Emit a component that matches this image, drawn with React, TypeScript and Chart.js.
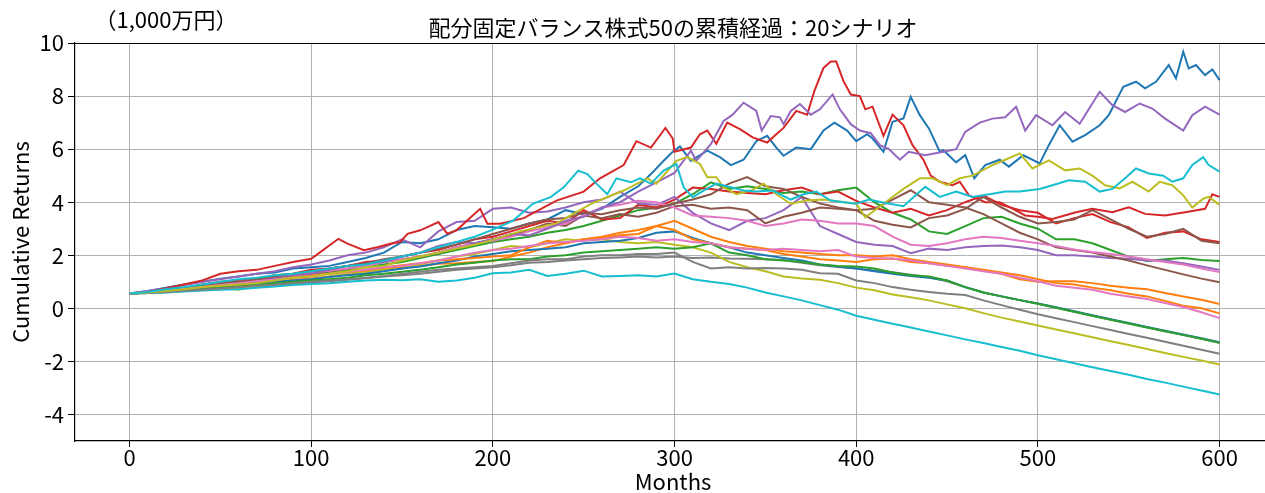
import React, { useEffect, useRef } from 'react';
import { Chart, registerables } from 'chart.js';

Chart.register(...registerables);

const FONT = '"Noto Sans CJK JP", "Noto Sans", sans-serif';

const titleText = '配分固定バランス株式50の累積経過：20シナリオ';
const unitText = '（1,000万円）';
const yTitle = 'Cumulative Returns';
const xTitle = 'Months';

const xTicks = [0, 100, 200, 300, 400, 500, 600];
const yTicks = [-4, -2, 0, 2, 4, 6, 8, 10];

// common month grid (every 10 months)
const months = [
  0, 10, 20, 30, 40, 50, 60, 70, 80, 90,
  100, 110, 120, 130, 140, 150, 160, 170, 180, 190,
  200, 210, 220, 230, 240, 250, 260, 270, 280, 290,
  300, 310, 320, 330, 340, 350, 360, 370, 380, 390,
  400, 410, 420, 430, 440, 450, 460, 470, 480, 490,
  500, 510, 520, 530, 540, 550, 560, 570, 580, 590,
  600,
];

// scenario 1 (blue, ends highest) — read at its own months
const s0Months = [0,10,20,30,40,50,60,70,80,90, 100,110,120,130,140,150,160,170,180,190, 200,210,220,230,240,250,260,270,280,
  287,294,299,303,309,318,325,331,338,345, 351,356,360,367,375,382,388,395,400,406, 409,415,420,426,430,435,440,446,448,455,
  460,465,471,479,484,492,501,506,512,519, 526,534,539,547,554,559,565,572,576,580, 583,587,592,596,600];
const s0 = [0.56,0.65,0.78,0.9,1.0,1.12,1.2,1.3,1.35,1.5, 1.55,1.6,1.75,1.9,2.1,2.5,2.45,2.6,2.95,3.1, 3.06,3.0,3.2,3.35,3.7,3.55,3.75,4.2,4.6,
  5.06,5.56,5.9,6.1,5.56,5.94,5.7,5.4,5.6,6.3, 6.5,6.06,5.75,6.06,6.0,6.7,7.0,6.7,6.3,6.56, 6.4,5.9,7.03,7.16,7.97,7.28,6.78,5.9,5.96,5.5,
  5.77,4.9,5.4,5.6,5.34,5.77,5.46,6.15,6.9,6.28, 6.53,6.9,7.28,8.35,8.54,8.29,8.54,9.17,8.67,9.67, 9.04,9.17,8.79,9.0,8.6];

const s1 = [0.56,0.6,0.65,0.7,0.78,0.85,0.9,0.95,1.0,1.08, 1.12,1.2,1.3,1.4,1.5,1.55,1.6,1.68,1.7,1.75, 1.78,1.95,2.1,2.3,2.45,2.6,2.7,2.85,2.95,3.1, 3.3,3.0,2.7,2.5,2.35,2.25,2.15,2.1,2.05,2.0, 2.0,1.95,2.0,1.85,1.75,1.65,1.55,1.42,1.3,1.1, 1.0,1.02,1.02,0.95,0.85,0.78,0.72,0.58,0.45,0.32, 0.16];
const s2 = [0.56,0.6,0.66,0.74,0.82,0.9,0.98,1.05,1.12,1.2, 1.28,1.35,1.45,1.55,1.65,1.75,1.9,2.05,2.2,2.35, 2.5,2.6,2.7,2.85,2.95,3.1,3.3,3.5,3.7,3.8, 3.95,4.3,4.75,4.5,4.6,4.5,4.35,4.4,4.3,4.45, 4.55,4.0,3.6,3.35,2.9,2.8,3.1,3.4,3.45,3.2, 3.0,2.6,2.6,2.45,2.2,1.95,1.78,1.85,1.9,1.82, 1.78];
const s3 = [0.56,0.6,0.68,0.78,0.9,1.0,1.05,1.12,1.25,1.3, 1.45,1.5,1.6,1.75,1.8,1.95,2.1,2.2,2.4,2.6, 2.7,2.9,3.1,3.3,3.2,3.7,3.35,3.4,3.9,3.8, 4.1,4.55,4.5,4.4,4.35,4.3,4.45,4.55,4.3,4.4, 4.05,3.8,3.6,3.75,3.5,3.7,4.0,4.25,3.9,3.7, 3.6,3.2,3.4,3.55,3.25,3.05,2.65,2.85,2.9,2.6, 2.5];
const s4 = [0.56,0.65,0.75,0.88,1.0,1.1,1.2,1.3,1.4,1.55, 1.65,1.8,2.0,2.1,2.3,2.6,2.3,2.9,3.25,3.3, 3.75,3.8,3.6,3.65,3.8,4.0,4.1,4.4,3.95,3.9, 4.2,3.6,3.2,2.95,3.3,3.4,3.7,4.2,3.1,2.8, 2.5,2.4,2.35,2.08,2.25,2.2,2.3,2.35,2.37,2.3, 2.2,2.0,2.0,1.95,1.9,1.87,1.8,1.8,1.7,1.58, 1.45];
const s5 = [0.56,0.6,0.66,0.72,0.8,0.88,0.95,1.02,1.1,1.2, 1.3,1.4,1.5,1.62,1.75,1.85,1.95,2.1,2.3,2.45, 2.6,2.75,2.95,3.2,3.1,3.5,3.4,3.55,3.45,3.6, 3.85,3.9,3.75,3.8,3.7,3.2,3.45,3.6,3.8,3.75, 3.7,3.75,4.1,4.45,4.0,3.9,3.8,3.55,3.2,2.85, 2.6,2.3,2.2,2.1,1.95,1.8,1.62,1.45,1.28,1.12, 0.98];
const s6 = [0.56,0.6,0.68,0.76,0.85,0.95,1.0,1.08,1.15,1.25, 1.35,1.42,1.5,1.6,1.75,1.85,1.95,2.1,2.3,2.45, 2.55,2.7,2.9,3.05,3.2,3.5,3.8,3.9,4.05,4.0, 3.8,3.5,3.45,3.4,3.3,3.1,3.2,3.35,3.3,3.2, 3.2,3.1,2.7,2.4,2.35,2.45,2.6,2.7,2.65,2.55, 2.45,2.35,2.22,2.12,2.05,1.95,1.85,1.75,1.65,1.5, 1.37];
const s7 = [0.56,0.58,0.61,0.65,0.69,0.74,0.78,0.83,0.88,0.92, 0.97,1.02,1.08,1.13,1.2,1.25,1.3,1.38,1.45,1.5, 1.55,1.62,1.72,1.75,1.8,1.85,1.9,1.92,1.95,1.92, 1.95,1.9,1.92,1.88,1.87,1.85,1.82,1.72,1.62,1.56, 1.5,1.43,1.36,1.27,1.17,1.02,0.8,0.6,0.45,0.31, 0.17,0.02,-0.13,-0.28,-0.42,-0.57,-0.71,-0.86,-1.01,-1.15, -1.3];
const s8 = [0.56,0.58,0.62,0.67,0.72,0.78,0.7,0.85,0.95,1.0, 1.1,1.2,1.3,1.35,1.45,1.5,1.65,1.8,1.95,2.05, 2.2,2.35,2.3,2.45,2.6,2.55,2.6,2.5,2.45,2.5, 2.4,2.3,2.1,1.75,1.55,1.4,1.2,1.12,1.08,0.95, 0.78,0.68,0.52,0.42,0.3,0.15,0.0,-0.18,-0.35,-0.5, -0.65,-0.8,-0.94,-1.09,-1.24,-1.38,-1.53,-1.68,-1.83,-1.97, -2.12];
const s9 = [0.56,0.58,0.6,0.63,0.67,0.7,0.72,0.78,0.82,0.88, 0.92,0.95,1.0,1.05,1.08,1.06,1.1,1.0,1.05,1.15, 1.32,1.35,1.45,1.22,1.3,1.42,1.2,1.22,1.25,1.2, 1.31,1.1,1.0,0.92,0.78,0.6,0.45,0.3,0.12,-0.05, -0.28,-0.43,-0.58,-0.72,-0.87,-1.02,-1.17,-1.31,-1.46,-1.6, -1.77,-1.92,-2.07,-2.22,-2.36,-2.5,-2.66,-2.8,-2.95,-3.1, -3.25];
const s10 = [0.56,0.6,0.65,0.7,0.75,0.82,0.88,0.95,1.0,1.05, 1.1,1.18,1.25,1.3,1.4,1.5,1.58,1.7,1.8,1.95, 2.05,2.15,2.2,2.25,2.3,2.45,2.5,2.55,2.65,2.85, 2.9,2.65,2.45,2.3,2.1,2.0,1.9,1.8,1.65,1.58, 1.5,1.4,1.3,1.22,1.15,1.05,0.8,0.6,0.45,0.31, 0.18,0.04,-0.11,-0.26,-0.41,-0.55,-0.7,-0.84,-0.99,-1.13, -1.28];
const s11 = [0.56,0.62,0.7,0.78,0.85,0.92,1.0,1.08,1.15,1.2, 1.25,1.3,1.38,1.45,1.55,1.62,1.7,1.8,1.85,1.9, 1.95,2.0,2.3,2.55,2.45,2.6,2.65,2.75,2.8,3.1, 2.95,2.6,2.45,2.3,2.25,2.2,2.05,1.95,1.85,1.8, 1.75,1.85,1.88,1.75,1.7,1.6,1.55,1.45,1.35,1.25, 1.1,0.95,0.9,0.78,0.68,0.55,0.45,0.28,0.1,0.0, -0.19];
const s12 = [0.56,0.6,0.64,0.68,0.74,0.8,0.85,0.9,0.95,1.0, 1.05,1.1,1.15,1.25,1.3,1.38,1.45,1.55,1.65,1.72, 1.8,1.85,1.85,1.95,2.0,2.1,2.15,2.2,2.25,2.3, 2.25,2.3,2.45,2.1,2.0,1.85,1.8,1.75,1.65,1.6, 1.58,1.5,1.35,1.25,1.2,1.05,0.8,0.6,0.45,0.31, 0.17,0.02,-0.13,-0.28,-0.43,-0.57,-0.72,-0.86,-1.0,-1.15, -1.3];

// scenario 14 (red, highest peak) — read at its own months
const s13Months = [0,10,20,30,40,50,60,70,80,90, 100,105,115,120,129,137,144,149,153,160, 164,170,175,180,188,193,197,204,217,235,
  250,259,272,279,287,295,299,300,309,314, 318,323,329,336,343,351,356,360,367,373, 377,382,386,389,393,397,402,405,409,415,
  420,426,431,437,441,446,453,457,462,471, 479,486,493,501,508,521,530,541,550,559, 570,581,592,596,600];
const s13 = [0.56,0.62,0.75,0.9,1.05,1.3,1.4,1.45,1.6,1.75, 1.87,2.12,2.62,2.44,2.19,2.31,2.44,2.5,2.81,2.94, 3.06,3.25,2.81,2.94,3.44,3.75,3.19,3.19,3.4,4.06,
  4.4,4.9,5.4,6.3,6.06,6.8,6.4,5.9,6.06,6.56, 6.7,6.2,7.0,6.75,6.44,6.25,6.56,6.8,7.44,7.3, 8.2,9.06,9.3,9.3,8.56,8.06,8.0,7.5,7.6,6.5,
  7.3,6.9,6.15,5.6,5.0,4.77,4.64,4.77,4.26,4.0, 4.0,3.76,3.5,3.44,3.37,3.62,3.75,3.62,3.81,3.56, 3.5,3.62,3.75,4.3,4.2];

// scenario 15 (purple, second highest at the end)
const s14Months = [0,10,20,30,40,50,60,70,80,90, 100,110,120,130,140,150,160,170,180,190, 200,210,220,230,240,250,260,270,280,290, 300,
  309,312,320,327,332,338,345,348,353,358, 360,364,369,375,380,387,391,397,402,408, 413,418,424,429,438,448,455,460,468,475,
  482,488,493,499,508,515,523,534,541,548, 556,563,570,580,585,592,600];
const s14 = [0.56,0.62,0.7,0.78,0.85,0.95,1.0,1.1,1.15,1.25, 1.3,1.45,1.6,1.7,1.75,1.95,2.1,2.35,2.5,2.45, 2.6,2.8,2.75,3.0,3.3,3.45,3.8,4.0,4.4,4.75, 5.1,
  5.94,5.56,6.19,7.06,7.3,7.75,7.44,6.7,7.25,7.2, 6.94,7.44,7.7,7.3,7.5,8.06,7.5,6.94,6.7,6.6, 6.15,6.0,5.6,5.9,5.77,5.9,6.0,6.65,7.0,7.15,
  7.2,7.6,6.7,7.28,6.9,7.4,6.96,8.16,7.66,7.4, 7.72,7.53,7.15,6.7,7.28,7.6,7.3];

const s15 = [0.56,0.6,0.68,0.76,0.85,0.95,1.0,1.1,1.2,1.3, 1.4,1.5,1.6,1.7,1.85,1.95,2.1,2.25,2.4,2.6, 2.8,3.0,3.2,3.35,3.4,3.6,3.55,3.7,3.8,3.75, 3.95,4.1,4.3,4.7,4.95,4.6,4.5,4.2,3.95,3.8, 3.7,3.3,3.15,3.05,3.4,3.5,3.75,4.2,3.8,3.45, 3.2,3.25,3.35,3.7,3.35,3.0,2.7,2.8,3.0,2.55, 2.45];
const s16 = [0.56,0.6,0.66,0.74,0.8,0.88,0.95,1.02,1.08,1.15, 1.2,1.3,1.38,1.45,1.55,1.6,1.7,1.8,1.95,2.1, 2.2,2.25,2.35,2.45,2.5,2.55,2.6,2.7,2.65,2.55, 2.6,2.5,2.45,2.3,2.25,2.2,2.25,2.2,2.15,2.2, 1.95,1.9,1.88,1.8,1.7,1.6,1.5,1.4,1.3,1.15, 1.02,0.85,0.78,0.7,0.55,0.45,0.35,0.2,0.05,-0.15, -0.37];
const s17 = [0.56,0.58,0.62,0.66,0.7,0.75,0.8,0.85,0.9,0.95, 1.0,1.05,1.1,1.15,1.22,1.3,1.38,1.45,1.5,1.55, 1.6,1.7,1.8,1.85,1.85,1.95,2.0,2.0,2.05,2.05, 2.1,1.75,1.5,1.55,1.5,1.52,1.5,1.45,1.32,1.3, 1.05,0.95,0.8,0.7,0.62,0.55,0.5,0.3,0.12,-0.05, -0.22,-0.37,-0.52,-0.67,-0.82,-0.97,-1.11,-1.26,-1.41,-1.56, -1.71];

// scenario 19 (olive, peaks near 5.8 around month 490)
const s18Months = [0,10,20,30,40,50,60,70,80,90, 100,110,120,130,140,150,160,170,180,190,
  199,215,235,254,272,285,290,301,307,314, 318,323,327,334,342,349,356,364,373,382, 400,405,415,426,435,442,450,457,464,475,
  482,490,497,506,515,523,530,537,545,552, 561,567,574,580,585,591,594,600];
const s18 = [0.56,0.6,0.65,0.72,0.8,0.85,0.9,0.95,1.05,1.15, 1.2,1.3,1.4,1.55,1.6,1.8,1.95,2.1,2.25,2.4,
  2.56,2.9,3.2,3.94,4.44,4.9,4.7,5.56,5.7,5.44, 4.94,4.94,4.56,4.3,4.44,4.7,4.3,3.94,4.06,4.1, 3.94,3.43,3.94,4.5,4.9,4.9,4.64,4.9,5.0,5.4,
  5.6,5.84,5.27,5.58,5.2,5.27,5.0,4.64,4.52,4.77, 4.4,4.77,4.64,4.26,3.8,4.13,4.2,3.9];

// scenario 20 (cyan, early peak near month 247)
const s19Months = [0,10,20,30,40,50,60,70,80,90, 100,110,120,130,140,150,160,170,180,190,
  199,211,222,232,239,247,252,257,263,268, 276,281,287,294,301,305,310,316,323,331, 338,345,354,364,371,378,386,393,400,407,
  416,426,435,438,446,455,464,475,482,490, 501,508,517,526,534,541,548,554,561,569, 574,580,585,591,594,600];
const s19 = [0.56,0.62,0.72,0.8,0.9,1.0,1.1,1.15,1.25,1.3, 1.4,1.5,1.6,1.65,1.8,1.95,2.1,2.3,2.5,2.7,
  2.94,3.3,3.94,4.2,4.56,5.19,5.06,4.7,4.3,4.9, 4.75,4.9,4.7,5.19,5.44,4.56,4.19,4.44,4.7,4.56, 4.44,4.4,4.44,4.1,4.3,4.4,4.06,4.0,3.94,4.1,
  3.97,3.85,4.4,4.58,4.2,4.4,4.2,4.32,4.4,4.4, 4.5,4.64,4.83,4.77,4.4,4.5,4.9,5.27,5.08,5.0, 4.77,4.9,5.4,5.7,5.4,5.15];

const scenarios = [s0, s1, s2, s3, s4, s5, s6, s7, s8, s9, s10, s11, s12, s13, s14, s15, s16, s17, s18, s19];
const scenarioMonths = [
  s0Months, months, months, months, months, months, months, months, months, months,
  months, months, months, s13Months, s14Months, months, months, months, s18Months, s19Months,
];
const palette = ['#1f77b4', '#ff7f0e', '#2ca02c', '#d62728', '#9467bd', '#8c564b', '#e377c2', '#7f7f7f', '#bcbd22', '#17becf'];

const decorPlugin = {
  id: 'decor',
  afterDraw(chart: any) {
    const { ctx, chartArea } = chart;
    ctx.save();
    ctx.strokeStyle = '#000';
    ctx.lineWidth = 1.2;
    ctx.beginPath();
    ctx.moveTo(chartArea.left, chartArea.top + 0.5);
    ctx.lineTo(chartArea.right, chartArea.top + 0.5);
    ctx.stroke();

    ctx.fillStyle = '#000';
    ctx.font = `22px ${FONT}`;
    ctx.textAlign = 'center';
    ctx.textBaseline = 'middle';
    ctx.fillText(titleText, 673, 28);
    ctx.fillText(unitText, 166, 20);
    ctx.textBaseline = 'alphabetic';
    ctx.fillText(xTitle, 673, 490);
    ctx.translate(21, 242);
    ctx.rotate(-Math.PI / 2);
    ctx.textBaseline = 'middle';
    ctx.fillText(yTitle, 0, 0);
    ctx.restore();
  },
};

export default function App() {
  const ref = useRef<HTMLCanvasElement | null>(null);

  useEffect(() => {
    if (!ref.current) return;
    const datasets = scenarios.map((arr, i) => ({
      label: `Scenario ${i + 1}`,
      data: scenarioMonths[i].map((m, j) => ({ x: m, y: arr[j] })),
      borderColor: palette[i % 10],
      backgroundColor: palette[i % 10],
      borderWidth: 2,
      pointRadius: 0,
      tension: 0,
      fill: false,
      order: scenarios.length - 1 - i,
    }));
    const chart = new Chart(ref.current, {
      type: 'line',
      data: { datasets },
      plugins: [decorPlugin],
      options: {
        animation: false,
        responsive: false,
        devicePixelRatio: 1,
        layout: { padding: { top: 43, left: 0, right: 0, bottom: 0 } },
        plugins: {
          legend: { display: false },
          tooltip: { enabled: false },
          title: { display: false },
        },
        scales: {
          x: {
            type: 'linear',
            min: -30,
            max: 625,
            afterBuildTicks: (s: any) => {
              s.ticks = xTicks.map((v) => ({ value: v }));
            },
            afterFit: (s: any) => {
              s.height = 52;
            },
            grid: { color: '#b0b0b0', lineWidth: 1, tickColor: '#000', tickLength: 6, drawTicks: true },
            border: { color: '#000', width: 1.2 },
            ticks: {
              font: { family: FONT, size: 22 },
              color: '#000',
              padding: -3,
              maxRotation: 0,
              autoSkip: false,
              callback: (v: any) => String(v),
            },
          },
          y: {
            type: 'linear',
            min: -5,
            max: 10,
            afterBuildTicks: (s: any) => {
              s.ticks = yTicks.map((v) => ({ value: v }));
            },
            afterFit: (s: any) => {
              s.width = 75;
            },
            grid: { color: '#b0b0b0', lineWidth: 1, tickColor: '#000', tickLength: 7, drawTicks: true },
            border: { color: '#000', width: 1.2 },
            ticks: {
              font: { family: FONT, size: 22 },
              color: '#000',
              padding: 4,
              autoSkip: false,
              callback: (v: any) => String(v),
            },
          },
        },
      },
    });
    return () => chart.destroy();
  }, []);

  return (
    <div style={{ position: 'absolute', left: 0, top: 0, width: 1265, height: 493 }}>
      <canvas ref={ref} width={1265} height={493} style={{ display: 'block' }} />
    </div>
  );
}
